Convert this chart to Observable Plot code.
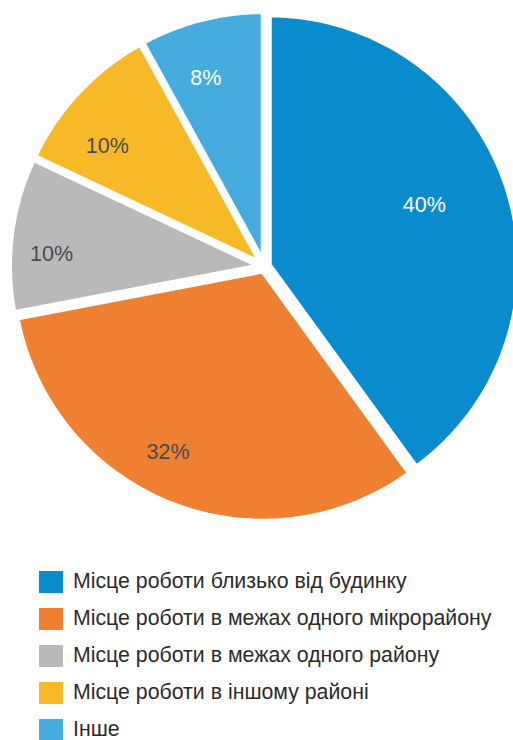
<!DOCTYPE html>
<html>
<head>
<meta charset="utf-8">
<script src="https://cdn.jsdelivr.net/npm/d3@7"></script>
<script src="https://cdn.jsdelivr.net/npm/@observablehq/plot@0.6"></script>
<style>
  html, body { margin: 0; padding: 0; background: #fff; overflow: hidden; }
  #chart { width: 513px; height: 545px; }
  #chart svg { display: block; max-width: none; }
  .legend { position: relative; width: 513px; font-family: "Liberation Sans", Arial, sans-serif; }
  .legend .row { position: absolute; left: 39px; display: flex; align-items: center; height: 22px; }
  .legend .sw { width: 24px; height: 22px; margin-right: 10px; flex: none; }
  .legend .lb { font-size: 21.3px; line-height: 0.95; color: #2b2b2b; white-space: nowrap; }
</style>
</head>
<body>
<div id="chart"></div>
<div class="legend" id="legend"></div>
<script>
// ---- data ----
const categories = [
  "Місце роботи близько від будинку",
  "Місце роботи в межах одного мікрорайону",
  "Місце роботи в межах одного району",
  "Місце роботи в іншому районі",
  "Інше"
];
const values = [40, 32, 10, 10, 8];
const labels = ["40%", "32%", "10%", "10%", "8%"];
const colors = ["#0a8bcd", "#ef8032", "#b9b9b9", "#f8b929", "#45acdd"];
const labelColors = ["#ffffff", "#474c50", "#474c50", "#474c50", "#ffffff"];
// layout parameters: label distance (fraction of radius) and angle shift (degrees)
const labelRadius = [0.664, 0.817, 0.833, 0.771, 0.768];
const labelShift = [-3, 6, -4, -6, -3];

// ---- geometry ----
const W = 513, H = 545;
const cx = 264, cy = 266, R = 250, explode = 5;
const total = d3.sum(values);
const pts = [];
const labelData = [];
let acc = 0;
values.forEach((v, i) => {
  const a0 = acc / total * 2 * Math.PI;
  acc += v;
  const a1 = acc / total * 2 * Math.PI;
  const mid = (a0 + a1) / 2;
  const ox = cx + explode * Math.sin(mid), oy = cy - explode * Math.cos(mid);
  pts.push({cat: categories[i], x: ox, y: oy});
  const n = Math.max(4, Math.ceil((a1 - a0) / (Math.PI / 180)));
  for (let k = 0; k <= n; k++) {
    const a = a0 + (a1 - a0) * k / n;
    pts.push({cat: categories[i], x: ox + R * Math.sin(a), y: oy - R * Math.cos(a)});
  }
  const la = mid + labelShift[i] * Math.PI / 180;
  labelData.push({
    cat: categories[i], text: labels[i], color: labelColors[i],
    x: ox + labelRadius[i] * R * Math.sin(la),
    y: oy - labelRadius[i] * R * Math.cos(la)
  });
});

const chart = Plot.plot({
  width: W, height: H,
  margin: 0,
  x: {domain: [0, W], range: [0, W], axis: null},
  y: {domain: [0, H], range: [0, H], axis: null},
  color: {domain: categories, range: colors},
  style: {background: "#fff"},
  marks: [
    Plot.line(pts, {x: "x", y: "y", z: "cat", fill: "cat", stroke: "#fff", strokeWidth: 5, curve: "linear-closed", strokeLinejoin: "miter"}),
    Plot.text(labelData, {x: "x", y: "y", text: "text", fill: d => d.color, fontSize: 21.5, fontFamily: "Liberation Sans, Arial, sans-serif"})
  ]
});
document.getElementById("chart").appendChild(chart);

// ---- legend ----
const legend = document.getElementById("legend");
legend.style.height = (740 - H) + "px";
categories.forEach((c, i) => {
  const row = document.createElement("div");
  row.className = "row";
  row.style.top = (570.5 - H + i * 37) + "px";
  const sw = document.createElement("div");
  sw.className = "sw";
  sw.style.background = colors[i];
  const lb = document.createElement("div");
  lb.className = "lb";
  lb.textContent = c;
  row.appendChild(sw); row.appendChild(lb);
  legend.appendChild(row);
});
</script>
</body>
</html>
